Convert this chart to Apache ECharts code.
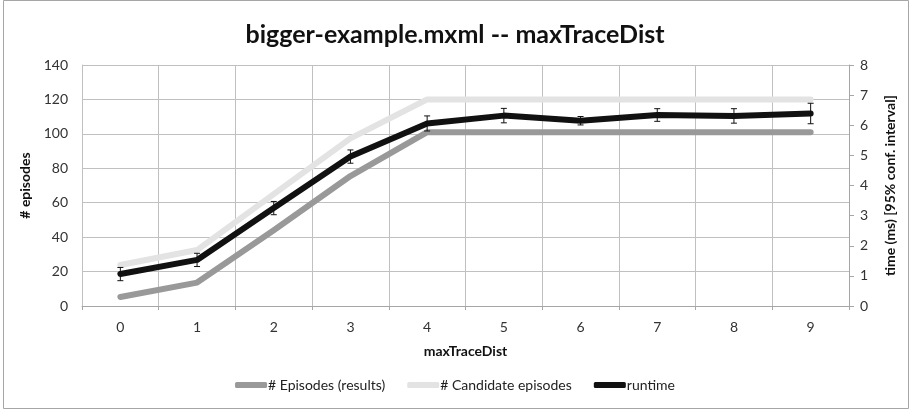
<!DOCTYPE html>
<html><head><meta charset="utf-8">
<script src="https://cdn.jsdelivr.net/npm/echarts@6/dist/echarts.min.js"></script>
<style>html,body{margin:0;padding:0;background:#fff}#c{width:910px;height:411px}</style>
</head><body><div id="c"></div>
<script>
var categories = ['0','1','2','3','4','5','6','7','8','9'];
var episodes = [5.2, 13.6, 44, 75.5, 101, 101, 101, 101, 101, 101];
var candidates = [23.8, 32.5, 65, 97.4, 120, 120, 120, 120, 120, 120];
var runtime = [1.06, 1.53, 3.25, 4.96, 6.06, 6.32, 6.15, 6.34, 6.31, 6.39];
var runtimeErr = [0.22, 0.22, 0.22, 0.22, 0.25, 0.24, 0.14, 0.21, 0.24, 0.34];

var FONT = 'Lato, "Open Sans", sans-serif';
var chart = echarts.init(document.getElementById('c'));
chart.setOption({
  animation: false,
  textStyle: {fontFamily: FONT},
  title: {text: 'bigger-example.mxml -- maxTraceDist', left: 'center', top: 17,
    textStyle: {fontFamily: FONT, fontSize: 25, fontWeight: 'bold', color: '#111'}},
  graphic: [{type: 'rect', shape: {x: 3.5, y: 0.5, width: 905, height: 408}, silent: true,
    style: {fill: 'none', stroke: '#a6a6a6', lineWidth: 1}}],
  grid: {left: 82, right: 61, top: 65, bottom: 105},
  legend: {bottom: 14, left: 'center', itemWidth: 32, itemHeight: 6, itemGap: 22, icon: 'roundRect',
    textStyle: {fontFamily: FONT, fontSize: 14, color: '#222', padding: [0,0,0,-4]},
    data: ['# Episodes (results)', '# Candidate episodes', 'runtime']},
  xAxis: {type: 'category', data: categories, boundaryGap: true,
    name: 'maxTraceDist', nameLocation: 'middle', nameGap: 38,
    nameTextStyle: {fontFamily: FONT, fontSize: 14, fontWeight: 'bold', color: '#111'},
    axisLine: {lineStyle: {color: '#a6a6a6'}},
    axisTick: {show: true, length: 4, lineStyle: {color: '#a6a6a6'}},
    axisLabel: {fontSize: 14, color: '#333', margin: 14},
    splitLine: {show: true, lineStyle: {color: '#c0c0c0'}}},
  yAxis: [{type: 'value', min: 0, max: 140, interval: 20, position: 'left',
    name: '# episodes', nameLocation: 'middle', nameGap: 46, nameRotate: 90,
    nameTextStyle: {fontFamily: FONT, fontSize: 14, fontWeight: 'bold', color: '#111'},
    axisLine: {show: true, lineStyle: {color: '#c0c0c0'}}, axisTick: {show: false},
    axisLabel: {fontSize: 14, color: '#333', margin: 14},
    splitLine: {show: true, lineStyle: {color: '#c0c0c0'}}},
   {type: 'value', min: 0, max: 8, interval: 1, position: 'right',
    name: 'time (ms) [95% conf. interval]', nameLocation: 'middle', nameGap: 34, nameRotate: 90,
    nameTextStyle: {fontFamily: FONT, fontSize: 14, fontWeight: 'bold', color: '#111'},
    axisLine: {show: true, lineStyle: {color: '#a6a6a6'}},
    axisTick: {show: true, length: 5, inside: false, lineStyle: {color: '#a6a6a6'}},
    axisLabel: {fontSize: 14, color: '#333', margin: 11},
    splitLine: {show: false}}],
  series: [
    {name: '# Episodes (results)', type: 'line', yAxisIndex: 0, data: episodes, symbol: 'none',
      itemStyle: {color: '#999999'}, lineStyle: {width: 6, color: '#999999', cap: 'round', join: 'round'}, z: 2},
    {name: '# Candidate episodes', type: 'line', yAxisIndex: 0, data: candidates, symbol: 'none',
      itemStyle: {color: '#e3e3e3'}, lineStyle: {width: 6, color: '#e3e3e3', cap: 'round', join: 'round'}, z: 2},
    {name: 'runtime', type: 'line', yAxisIndex: 1, data: runtime, symbol: 'none',
      itemStyle: {color: '#111111'}, lineStyle: {width: 6, color: '#111111', cap: 'round', join: 'round'}, z: 3},
    {name: 'runtimeErr', type: 'custom', yAxisIndex: 1, z: 4,
      data: runtime.map(function (v, i) { return [i, v - runtimeErr[i], v + runtimeErr[i]]; }),
      encode: {x: 0, y: [1, 2]},
      renderItem: function (params, api) {
        var lo = api.coord([api.value(0), api.value(1)]);
        var hi = api.coord([api.value(0), api.value(2)]);
        var w = 3;
        var st = {stroke: '#111', lineWidth: 1, fill: 'none'};
        return {type: 'group', children: [
          {type: 'line', shape: {x1: lo[0], y1: lo[1], x2: hi[0], y2: hi[1]}, style: st},
          {type: 'line', shape: {x1: lo[0]-w, y1: lo[1], x2: lo[0]+w, y2: lo[1]}, style: st},
          {type: 'line', shape: {x1: hi[0]-w, y1: hi[1], x2: hi[0]+w, y2: hi[1]}, style: st}
        ]};
      }}
  ]
});
</script></body></html>
